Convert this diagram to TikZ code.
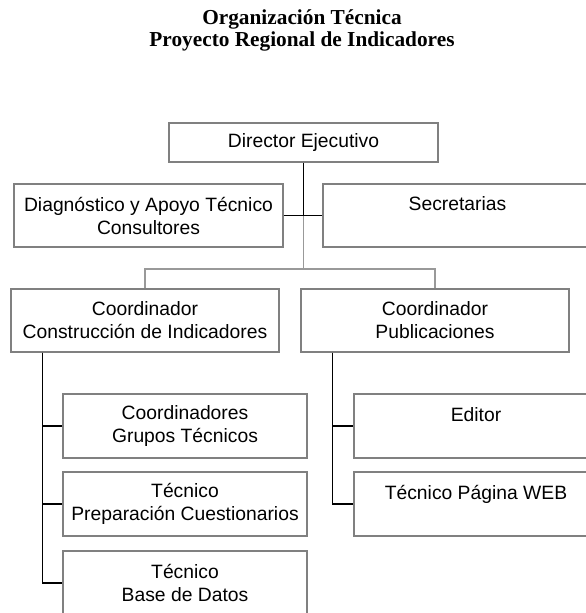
\documentclass[tikz,border=0pt]{standalone}
\usepackage{fontspec}
\setmainfont{Liberation Sans}
\newfontfamily\titlefont{Liberation Serif}
\usetikzlibrary{calc}
\definecolor{boxgray}{gray}{0.5}
\definecolor{conngray}{gray}{0.6}
\begin{document}
\begin{tikzpicture}[x=1pt,y=-1pt,
  box/.style={draw=boxgray, line width=1.1pt, inner sep=0pt, align=center,
    font=\fontsize{19.3}{23}\selectfont, anchor=center},
  widebox/.style={box, minimum width=269pt, minimum height=63pt},
  coordbox/.style={box, minimum width=268pt, minimum height=63pt},
  subbox/.style={box, minimum width=244pt, minimum height=64pt},
  conn/.style={draw=black, line width=1.7pt},
  gconn/.style={draw=conngray, line width=1.1pt},
  titletext/.style={anchor=base, inner sep=0pt, font=\titlefont\bfseries\fontsize{21.3}{22}\selectfont}]
\clip (0,0) rectangle (586,613);
% title
\node[titletext] (t1) at (302,24) {Organización Técnica};
\node[titletext] (t2) at (302,46) {Proyecto Regional de Indicadores};
% boxes
\node[box, minimum width=269pt, minimum height=39pt] (dir) at (303.5,142.5) {Director Ejecutivo};
\node[widebox] (diag) at (148.5,215.5) {Diagnóstico y Apoyo Técnico\\Consultores};
\node[widebox] (sec) at (457.5,215.5) {Secretarias\\\mbox{}};
\node[coordbox] (cc) at (145,320.5) {Coordinador\\Construcción de Indicadores};
\node[coordbox] (cp) at (435,320.5) {Coordinador\\Publicaciones};
\node[subbox] (g1) at (185,426) {Coordinadores\\Grupos Técnicos};
\node[subbox] (g2) at (185,504) {Técnico\\Preparación Cuestionarios};
\node[subbox] (g3) at (185,583) {Técnico\\Base de Datos};
\node[subbox] (ed) at (476,426) {Editor\\\mbox{}};
\node[subbox] (web) at (476,504) {Técnico Página WEB\\\mbox{}};
% connectors
\coordinate (j) at (dir.south |- diag.east);
\coordinate (bus) at ($(j)+(0,53.5)$);
\draw[gconn] (j) -- (bus) -| (cc.north);
\draw[gconn] (bus) -| (cp.north);
\draw[conn] (dir.south) -- (j);
\draw[conn] (diag.east) -- (sec.west);
\coordinate (lb) at ($(cc.south west)+(32,0)$);
\coordinate (rb) at ($(cp.south west)+(32,0)$);
\draw[conn] (lb) |- (g1.west);
\draw[conn] (lb) |- (g2.west);
\draw[conn] (lb) |- (g3.west);
\draw[conn] (rb) |- (ed.west);
\draw[conn] (rb) |- (web.west);
\end{tikzpicture}
\end{document}
